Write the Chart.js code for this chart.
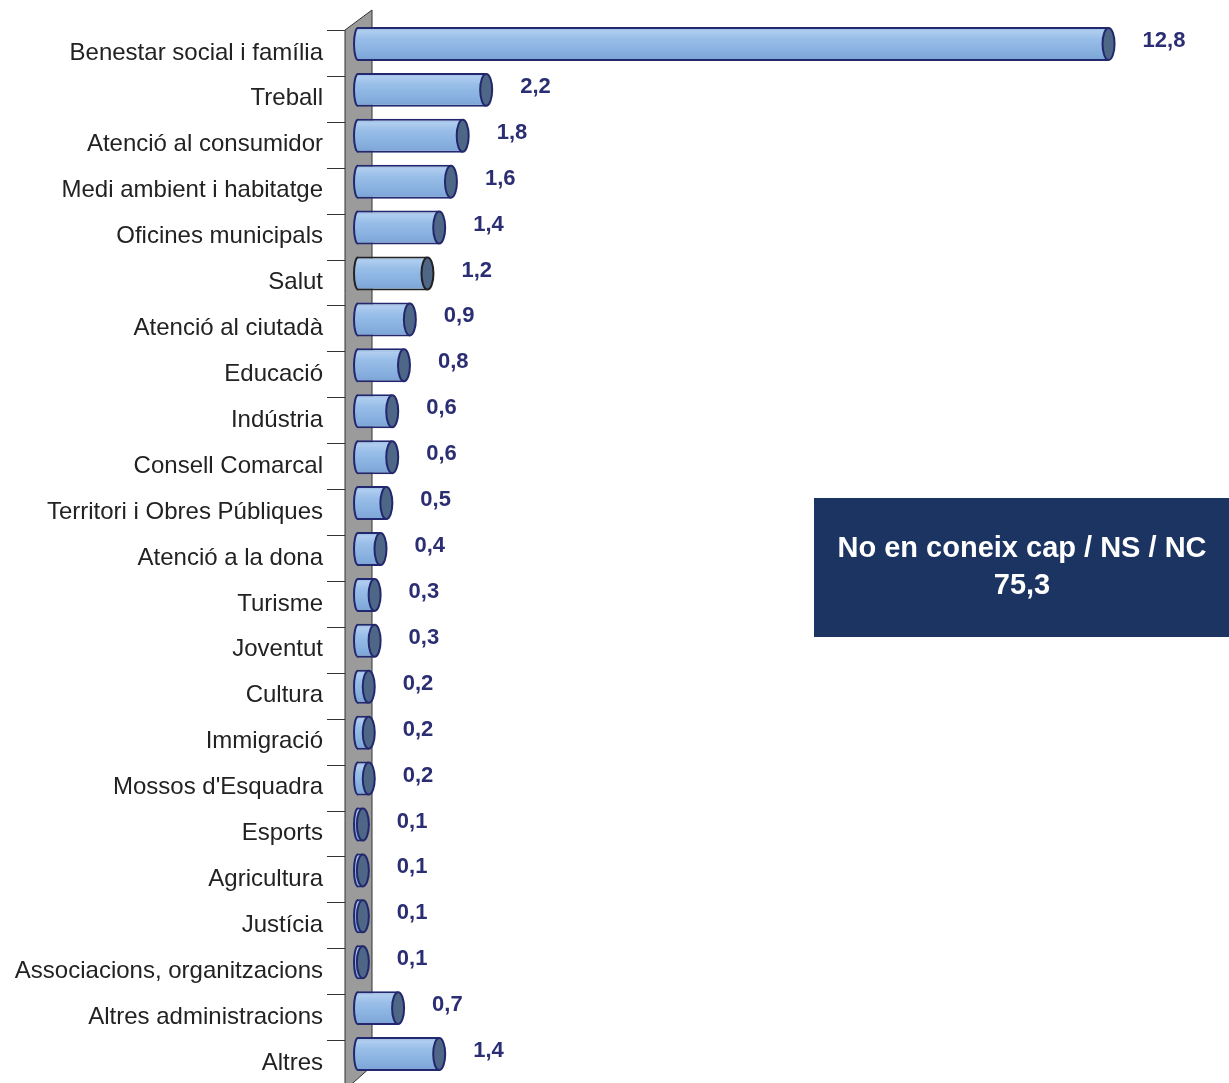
<!DOCTYPE html>
<html>
<head>
<meta charset="utf-8">
<script src="https://cdn.jsdelivr.net/npm/chart.js@4"></script>
<style>
html,body{margin:0;padding:0;background:#fff;}
#wrap{position:relative;width:1229px;height:1083px;}
</style>
</head>
<body>
<div id="wrap"><canvas id="c"></canvas></div>
<script>
const categories = ['Benestar social i família','Treball','Atenció al consumidor','Medi ambient i habitatge','Oficines municipals','Salut','Atenció al ciutadà','Educació','Indústria','Consell Comarcal','Territori i Obres Públiques','Atenció a la dona','Turisme','Joventut','Cultura','Immigració',"Mossos d'Esquadra",'Esports','Agricultura','Justícia','Associacions, organitzacions','Altres administracions','Altres'];
const values = [12.8,2.2,1.8,1.6,1.4,1.2,0.9,0.8,0.6,0.6,0.5,0.4,0.3,0.3,0.2,0.2,0.2,0.1,0.1,0.1,0.1,0.7,1.4];
const noneLabel = 'No en coneix cap / NS / NC';
const noneValue = 75.3;

const NAVY = '#23286e';
const fmt = v => v.toFixed(1).replace('.', ',');
const borderColors = categories.map((c, i) => c === 'Salut' ? '#222222' : NAVY);

const barGradient = (ctx) => {
  const chart = ctx.chart;
  if (!chart.chartArea || ctx.dataIndex === undefined) return '#8db6e4';
  const y = chart.scales.y.getPixelForValue(ctx.dataIndex);
  const h = 17;
  const g = chart.ctx.createLinearGradient(0, y - h, 0, y + h);
  g.addColorStop(0, '#8fb3de');
  g.addColorStop(0.12, '#b0cdef');
  g.addColorStop(0.35, '#98bee8');
  g.addColorStop(0.7, '#89b1e0');
  g.addColorStop(1, '#7aa2d4');
  return g;
};

const decor = {
  id: 'decor',
  beforeDatasetsDraw(chart) {
    const c = chart.ctx;
    const ys = chart.scales.y;
    c.save();
    // wall
    c.beginPath();
    c.moveTo(345, 30);
    c.lineTo(372, 10);
    c.lineTo(372, 1066);
    c.lineTo(345, 1090);
    c.closePath();
    c.fillStyle = '#9b9b9b';
    c.fill();
    c.strokeStyle = '#333';
    c.lineWidth = 1;
    c.stroke();
    // tick lines at category boundaries
    const step = ys.getPixelForValue(1) - ys.getPixelForValue(0);
    c.beginPath();
    for (let i = 0; i < categories.length; i++) {
      const yy = Math.round(ys.getPixelForValue(i) - step / 2 + 9) + 0.5;
      c.moveTo(327, yy);
      c.lineTo(345, yy);
    }
    c.strokeStyle = '#333';
    c.stroke();
    c.restore();
  },
  afterDatasetsDraw(chart) {
    const c = chart.ctx;
    const meta = chart.getDatasetMeta(0);
    c.save();
    meta.data.forEach((bar, i) => {
      const { x, y, base, height } = bar.getProps(['x', 'y', 'base', 'height'], true);
      const ry = height / 2 - 1;
      const bc = borderColors[i];
      // left rounded end
      c.beginPath();
      c.ellipse(base + 1, y, 4, ry, 0, Math.PI / 2, Math.PI * 1.5);
      c.closePath();
      c.fillStyle = barGradient({ chart, dataIndex: i });
      c.fill();
      c.beginPath();
      c.ellipse(base + 1, y, 4, ry, 0, Math.PI / 2, Math.PI * 1.5);
      c.lineWidth = 2;
      c.strokeStyle = bc;
      c.stroke();
      // right cap
      c.beginPath();
      c.ellipse(x, y, 6, ry, 0, 0, Math.PI * 2);
      c.fillStyle = '#4f6787';
      c.fill();
      c.lineWidth = 2;
      c.strokeStyle = bc;
      c.stroke();
      // value label
      c.font = 'bold 22px "Liberation Sans", Arial, sans-serif';
      c.fillStyle = '#2b2e72';
      c.textAlign = 'left';
      c.textBaseline = 'middle';
      c.fillText(fmt(values[i]), x + 34, y - 3);
    });
    // info box
    c.fillStyle = '#1b3461';
    c.fillRect(814, 498, 415, 139);
    c.fillStyle = '#ffffff';
    c.font = 'bold 29px "Liberation Sans", Arial, sans-serif';
    c.textAlign = 'center';
    c.textBaseline = 'middle';
    c.fillText(noneLabel, 1022, 549);
    c.fillText(fmt(noneValue), 1022, 586);
    c.restore();
  }
};

new Chart(document.getElementById('c'), {
  type: 'bar',
  data: {
    labels: categories,
    datasets: [{
      data: values,
      backgroundColor: barGradient,
      borderColor: borderColors,
      borderWidth: 2,
      borderSkipped: 'left',
      barPercentage: 0.74,
      categoryPercentage: 1.0
    }]
  },
  options: {
    indexAxis: 'y',
    responsive: true,
    maintainAspectRatio: false,
    animation: false,
    devicePixelRatio: 1,
    layout: { padding: { top: 21, bottom: 6, left: 0, right: 50 } },
    plugins: { legend: { display: false }, tooltip: { enabled: false } },
    scales: {
      x: { display: false, min: 0, max: 14 },
      y: {
        grid: { display: false, drawTicks: false },
        border: { display: false },
        ticks: {
          padding: 34,
          labelOffset: 9,
          color: '#222222',
          font: { family: '"Liberation Sans", Arial, sans-serif', size: 24 }
        },
        afterFit(scale) {
          scale.width = 357;
          scale.paddingTop = 0;
          scale.paddingBottom = 0;
        }
      }
    }
  },
  plugins: [decor]
});
</script>
</body>
</html>
